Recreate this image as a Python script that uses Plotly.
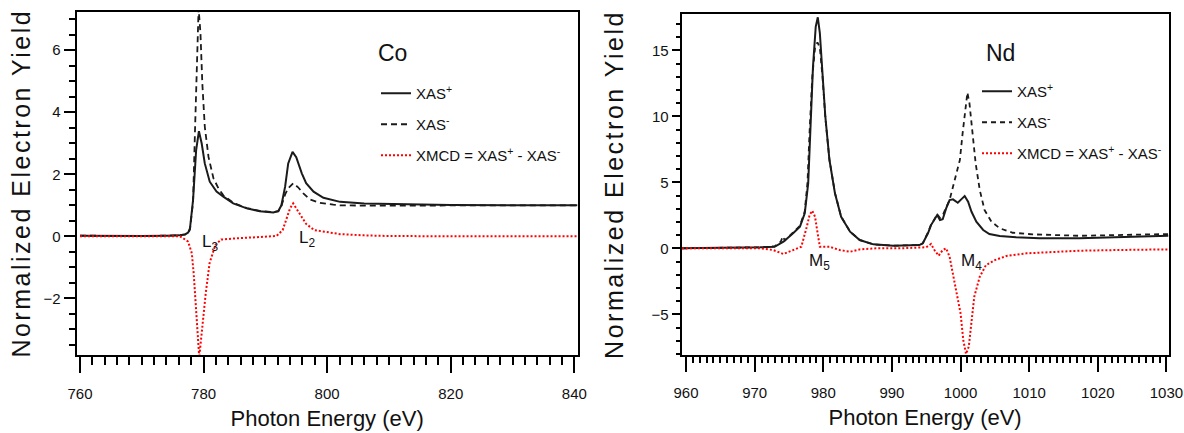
import plotly.graph_objects as go

# ---------------- Co L2,3 edge (left panel) ----------------
co_e_plus = [760, 765, 770, 774, 776, 777, 777.5, 777.8, 778.3, 778.8, 779.25, 779.7, 780.2, 781.0,
             782.1, 783.2, 784.8, 787.0, 789.1, 791.3, 792.1, 792.6, 793.2, 793.7, 794.4, 795.0,
             795.9, 796.6, 797.8, 799.4, 802.1, 806, 810, 815, 820, 830, 840.5]
co_xas_plus = [0.02, 0.01, 0.01, 0.02, 0.03, 0.06, 0.12, 0.25, 1.17, 2.78, 3.39, 2.99, 2.35, 1.76,
               1.44, 1.28, 1.06, 0.90, 0.81, 0.77, 0.82, 1.0, 1.6, 2.35, 2.72, 2.55,
               2.03, 1.71, 1.44, 1.24, 1.11, 1.06, 1.04, 1.02, 1.01, 1.0, 1.0]

co_e_minus = [760, 765, 770, 774, 776, 777, 777.5, 777.8, 778.3, 778.6, 778.9, 779.2, 779.5, 779.8,
              780.2, 780.8, 781.6, 782.4, 783.2, 784.8, 787.0, 789.1, 791.3, 792.1, 792.6, 793.2,
              793.7, 794.5, 795.3, 796.1, 797.2, 798.8, 801.0, 802.1, 806, 810, 815, 820, 830, 840.5]
co_xas_minus = [0.02, 0.01, 0.01, 0.02, 0.03, 0.06, 0.1, 0.22, 1.1, 3.3, 5.46, 7.35, 6.54, 4.93,
                3.53, 2.56, 1.87, 1.55, 1.32, 1.08, 0.91, 0.82, 0.78, 0.80, 0.98, 1.35,
                1.55, 1.71, 1.58, 1.39, 1.19, 1.08, 1.02, 1.0, 0.99, 0.99, 0.99, 1.0, 1.0, 1.0]

co_e_xmcd = [760, 765, 770, 774, 776.2, 777.5, 778.1, 778.4, 778.5, 778.8, 779.1, 779.3, 779.7,
             780.35, 780.97, 781.9, 782.85, 783.2, 785, 787, 789, 791.8, 792.8, 793.4, 794.0,
             794.5, 795.0, 795.9, 796.6, 797.9, 799.9, 802.1, 806, 810, 820, 830, 840.5]
co_xmcd = [0.0, 0.0, 0.0, 0.0, 0.0, -0.17, -0.55, -1.19, -1.51, -2.59, -3.55, -3.9, -3.12,
           -1.84, -0.87, -0.28, -0.10, -0.1, -0.07, -0.04, -0.02, 0.01, 0.2, 0.52, 0.9,
           1.06, 0.9, 0.58, 0.40, 0.2, 0.13, 0.07, 0.03, 0.01, 0.0, 0.0, 0.0]

# ---------------- Nd M4,5 edge (right panel) ----------------
nd_e_plus = [959.4, 965, 970.8, 972.9, 974.2, 975.6, 976.6, 977.3, 977.8, 978.1, 978.5, 978.9,
             979.2, 979.5, 979.9, 980.3, 980.9, 981.7, 982.6, 983.9, 985.3, 987.3, 990.2, 994.0,
             994.5, 995.25, 995.7, 996.2, 996.6, 997.0, 997.4, 997.9, 998.4, 998.9, 999.6,
             1000.1, 1000.6, 1001.1, 1001.6, 1002.3, 1003.3, 1004.2, 1005.7, 1008.1, 1011.5,
             1017.3, 1024, 1030.3]
nd_xas_plus = [0.0, 0.02, 0.08, 0.12, 0.5, 1.14, 1.64, 2.65, 4.92, 8.71, 13.76, 16.8,
               17.5, 16.3, 13.26, 9.97, 6.69, 4.17, 2.39, 1.26, 0.63, 0.3, 0.2, 0.25,
               0.38, 1.14, 1.76, 2.14, 2.52, 2.14, 2.2, 3.03, 3.66, 3.71, 3.45,
               3.71, 3.96, 3.53, 2.77, 2.02, 1.39, 1.08, 0.93, 0.83, 0.76,
               0.76, 0.85, 0.95]

nd_e_minus = [959.4, 965, 970.8, 972.9, 973.8, 974.1, 974.4, 975.6, 976.6, 977.3, 977.7, 978.0,
              978.4, 978.8, 979.15, 979.5, 979.9, 980.3, 980.9, 981.7, 982.6, 983.9, 985.3,
              987.3, 990.2, 994.0, 994.5, 995.25, 995.7, 996.2, 996.6, 997.0, 997.4, 997.9,
              998.4, 998.9, 999.4, 999.9, 1000.3, 1000.7, 1001.0, 1001.3, 1001.7, 1002.2,
              1002.8, 1003.5, 1004.5, 1005.7, 1007.6, 1010.5, 1017.3, 1024, 1030.3]
nd_xas_minus = [0.0, 0.02, 0.08, 0.15, 0.5, 0.9, 0.6, 1.2, 1.7, 2.8, 5.0, 8.8,
                13.0, 15.2, 15.6, 15.2, 12.9, 9.9, 6.7, 4.2, 2.4, 1.27, 0.64,
                0.3, 0.2, 0.25, 0.38, 1.2, 1.8, 2.2, 2.6, 2.3, 2.5, 3.1,
                3.66, 4.67, 5.68, 6.69, 8.71, 10.73, 11.8, 10.98, 8.96, 6.44,
                4.42, 2.9, 2.02, 1.52, 1.18, 1.06, 0.95, 1.0, 1.08]

nd_e_xmcd = [959.4, 965, 970.8, 972.7, 974.2, 975.6, 976.8, 977.6, 978.0, 978.4, 978.8, 979.1,
             979.5, 980.9, 982.4, 983.9, 985.3, 987.7, 991.1, 995.0, 995.7, 996.2, 996.8, 997.4,
             997.9, 998.4, 998.9, 999.5, 1000.0, 1000.4, 1000.8, 1001.2, 1001.6, 1002.0, 1002.8,
             1003.7, 1005.0, 1006.7, 1009.6, 1013.4, 1017.3, 1024, 1030.3]
nd_xmcd = [0.0, 0.0, 0.0, -0.13, -0.43, -0.13, 0.12, 1.64, 2.52, 2.85, 2.39, 1.39,
           0.12, 0.12, -0.13, -0.26, -0.08, 0.0, 0.0, 0.08, 0.33, -0.13, -0.56, -0.13,
           0.0, -0.63, -1.9, -3.41, -4.92, -6.95, -8.0, -7.45, -5.43, -3.66, -2.15,
           -1.27, -0.89, -0.58, -0.38, -0.26, -0.18, -0.12, -0.08]

legend_names = ["XAS<sup>+</sup>", "XAS<sup>-</sup>", "XMCD = XAS<sup>+</sup> - XAS<sup>-</sup>"]
edge_labels_co = ["L<sub>3</sub>", "L<sub>2</sub>"]
edge_labels_nd = ["M<sub>5</sub>", "M<sub>4</sub>"]

NARROW = "Liberation Sans, Arial, sans-serif"
REG = "Liberation Sans, Arial, sans-serif"
BLACK = "#1b1b1b"
RED = "#ff0000"
TXT = "#111111"

fig = go.Figure()

def add_panel(xa, ya, leg, data, dash):
    styles = [dict(color=BLACK, width=2), dict(color=BLACK, width=1.8, dash=dash),
              dict(color=RED, width=2, dash="2px,2px")]
    for i, (e, v) in enumerate(data):
        fig.add_trace(go.Scatter(x=e, y=v, mode="lines", name=legend_names[i], line=styles[i],
                                 xaxis=xa, yaxis=ya, legend=leg, legendgroup=f"{leg}{i}"))

add_panel("x", "y", "legend",
          [(co_e_plus, co_xas_plus), (co_e_minus, co_xas_minus), (co_e_xmcd, co_xmcd)], "6px,4px")
add_panel("x2", "y2", "legend2",
          [(nd_e_plus, nd_xas_plus), (nd_e_minus, nd_xas_minus), (nd_e_xmcd, nd_xmcd)], "5px,4px")

W, H = 1184, 433
def px_x(p):
    return p / W
def px_y(p):
    return 1 - p / H

axis_common = dict(showline=True, linecolor="black", linewidth=2, mirror=True, showgrid=False,
                   zeroline=False, ticks="outside", tickcolor="black", tickwidth=2,
                   automargin=False,
                   tickfont=dict(family=NARROW, size=15, color=TXT))
xtitle_font = dict(family=NARROW, size=22, color=TXT)
ytitle_font = dict(family=REG, size=25, color=TXT)

fig.update_layout(
    width=W, height=H, margin=dict(l=0, r=0, t=0, b=0, autoexpand=False),
    paper_bgcolor="white", plot_bgcolor="white",
    xaxis=dict(domain=[px_x(76.7), px_x(577.7)], range=[759.47, 840.55], anchor="y",
               tick0=760, dtick=20, ticklen=16, ticklabelstandoff=8,
               minor=dict(dtick=2, ticklen=8, tickwidth=1.6, ticks="outside", tickcolor="black"),
               title=dict(text="Photon Energy (eV)", font=xtitle_font, standoff=10),
               **axis_common),
    yaxis=dict(domain=[px_y(354.5), px_y(12)], range=[-3.81, 7.23], anchor="x",
               tick0=0, dtick=2, ticklen=11, ticklabelstandoff=0,
               minor=dict(dtick=0.5, ticklen=6, tickwidth=1.6, ticks="outside", tickcolor="black"),
               title=dict(text="Normalized Electron Yield", font=ytitle_font, standoff=6),
               **axis_common),
    xaxis2=dict(domain=[px_x(681.7), px_x(1168.5)], range=[959.37, 1030.3], anchor="y2",
                tick0=960, dtick=10, ticklen=15, ticklabelstandoff=8,
                minor=dict(dtick=1, ticklen=6, tickwidth=1.6, ticks="outside", tickcolor="black"),
                title=dict(text="Photon Energy (eV)", font=xtitle_font, standoff=10),
                **axis_common),
    yaxis2=dict(domain=[px_y(355), px_y(14)], range=[-8.08, 17.75], anchor="x2",
                tick0=0, dtick=5, ticklen=8, ticklabelstandoff=0,
                minor=dict(dtick=1, ticklen=4, tickwidth=1.6, ticks="outside", tickcolor="black"),
                title=dict(text="Normalized Electron Yield", font=ytitle_font, standoff=21),
                **axis_common),
    legend=dict(x=px_x(376), y=px_y(77), xanchor="left", yanchor="top", bgcolor="rgba(0,0,0,0)",
                font=dict(family=NARROW, size=15, color=TXT), tracegroupgap=8.5,
                traceorder="grouped"),
    legend2=dict(x=px_x(977), y=px_y(75), xanchor="left", yanchor="top", bgcolor="rgba(0,0,0,0)",
                 font=dict(family=NARROW, size=15, color=TXT), tracegroupgap=8.5,
                 traceorder="grouped"),
    showlegend=True,
)

big_font = dict(family=NARROW, size=23, color=TXT)
ann_font = dict(family=NARROW, size=17, color=TXT)
fig.add_annotation(x=807.9, y=5.9, xref="x", yref="y", text="Co", showarrow=False,
                   xanchor="left", yanchor="middle", font=big_font)
fig.add_annotation(x=1003.35, y=14.8, xref="x2", yref="y2", text="Nd", showarrow=False,
                   xanchor="left", yanchor="middle", font=big_font)
fig.add_annotation(x=779.4, y=-0.22, xref="x", yref="y", text=edge_labels_co[0], showarrow=False,
                   xanchor="left", yanchor="middle", font=ann_font)
fig.add_annotation(x=795.1, y=-0.1, xref="x", yref="y", text=edge_labels_co[1], showarrow=False,
                   xanchor="left", yanchor="middle", font=ann_font)
fig.add_annotation(x=977.6, y=-1.05, xref="x2", yref="y2", text=edge_labels_nd[0], showarrow=False,
                   xanchor="left", yanchor="middle", font=ann_font)
fig.add_annotation(x=999.8, y=-1.05, xref="x2", yref="y2", text=edge_labels_nd[1], showarrow=False,
                   xanchor="left", yanchor="middle", font=ann_font)

post = """
document.body.style.margin = '0';
document.body.style.overflow = 'hidden';
var gd = document.getElementById('{plot_id}');
function spaceTitles(){
  gd.querySelectorAll('.ytitle, .y2title').forEach(function(t){ t.style.letterSpacing = '2.5px'; });
}
spaceTitles();
gd.on('plotly_afterplot', spaceTitles);
"""
fig.write_html("out.html", post_script=post, config={"displayModeBar": False})
